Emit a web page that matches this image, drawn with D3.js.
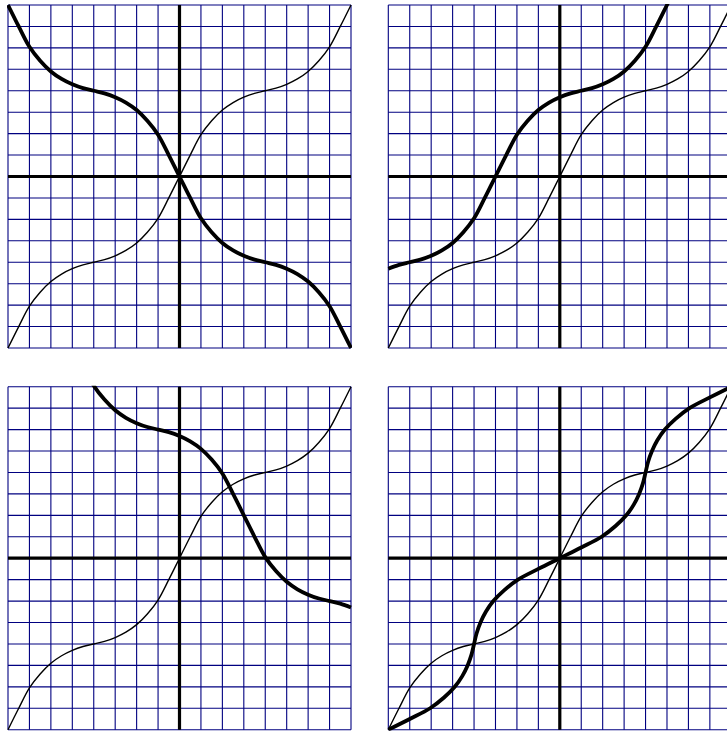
<!DOCTYPE html>
<html>
<head>
<meta charset="utf-8">
<script src="https://cdn.jsdelivr.net/npm/d3@7"></script>
<style>
  html, body { margin: 0; padding: 0; background: #ffffff; }
  svg { display: block; }
</style>
</head>
<body>
<svg id="chart" width="727" height="733"></svg>
<script>
// ---- data (grid units, 1 cell = pi/4) ----
const gridTicks = [-8,-7,-6,-5,-4,-3,-2,-1,0,1,2,3,4,5,6,7,8];

const baseX = [-8,-7.5,-7,-6.5,-6,-5.5,-5,-4.5,-4,-3.5,-3,-2.5,-2,-1.5,-1,-0.5,0,
               0.5,1,1.5,2,2.5,3,3.5,4,4.5,5,5.5,6,6.5,7,7.5,8];
const thinY = [-8,-7.0,-6.05,-5.4,-4.9,-4.55,-4.3,-4.12,-4,-3.88,-3.7,-3.45,-3.1,-2.6,-1.95,-1.0,0,
               1.0,1.95,2.6,3.1,3.45,3.7,3.88,4,4.12,4.3,4.55,4.9,5.4,6.05,7.0,8];

// panel 1: reflected
const thick1Y = [8,7.0,6.05,5.4,4.9,4.55,4.3,4.12,4,3.88,3.7,3.45,3.1,2.6,1.95,1.0,0,
                 -1.0,-1.95,-2.6,-3.1,-3.45,-3.7,-3.88,-4,-4.12,-4.3,-4.55,-4.9,-5.4,-6.05,-7.0,-8];

// panel 2: shifted left
const thick2X = [-8,-7.5,-7,-6.5,-6,-5.5,-5,-4.5,-4,-3.5,-3,-2.5,-2,-1.5,-1,-0.5,0,
                 0.5,1,1.5,2,2.5,3,3.5,4,4.5,5,5.5,6];
const thick2Y = [-4.3,-4.12,-4,-3.88,-3.7,-3.45,-3.1,-2.6,-1.95,-1.0,0,1.0,1.95,2.6,3.1,3.45,3.7,
                 3.88,4,4.12,4.3,4.55,4.9,5.4,6.05,7.0,8,9.0,9.95];

// panel 3: reflected and shifted
const thick3X = [-5,-4.5,-4,-3.5,-3,-2.5,-2,-1.5,-1,-0.5,0,0.5,1,1.5,2,2.5,3,3.5,4,4.5,
                 5,5.5,6,6.5,7,7.5,8];
const thick3Y = [10,9.0,8.05,7.4,6.9,6.55,6.3,6.12,6,5.88,5.7,5.45,5.1,4.6,3.95,3.0,2,1.0,0.05,-0.6,
                 -1.1,-1.45,-1.7,-1.88,-2,-2.12,-2.3];

// panel 4: inverse
const thick4X = [-8,-7.0,-6.05,-5.4,-4.9,-4.55,-4.3,-4.12,-4,-3.88,-3.7,-3.45,-3.1,-2.6,-1.95,-1.0,0,
                 1.0,1.95,2.6,3.1,3.45,3.7,3.88,4,4.12,4.3,4.55,4.9,5.4,6.05,7.0,8];
const thick4Y = [-8,-7.5,-7,-6.5,-6,-5.5,-5,-4.5,-4,-3.5,-3,-2.5,-2,-1.5,-1,-0.5,0,
                 0.5,1,1.5,2,2.5,3,3.5,4,4.5,5,5.5,6,6.5,7,7.5,8];

const panels = [
  { x0: 8,     y0: 5,     tx: thick1TX(), ty: thick1Y },
  { x0: 388.3, y0: 5,     tx: thick2X,    ty: thick2Y },
  { x0: 8,     y0: 386.7, tx: thick3X,    ty: thick3Y },
  { x0: 388.3, y0: 386.7, tx: thick4X,    ty: thick4Y }
];
function thick1TX() { return baseX; }

const size = 343;
const svg = d3.select("#chart");
const defs = svg.append("defs");

panels.forEach((p, i) => {
  const x = d3.scaleLinear().domain([-8, 8]).range([p.x0, p.x0 + size]);
  const y = d3.scaleLinear().domain([-8, 8]).range([p.y0 + size, p.y0]);

  defs.append("clipPath").attr("id", "clip" + i)
    .append("rect")
    .attr("x", p.x0 - 1).attr("y", p.y0 - 1)
    .attr("width", size + 2).attr("height", size + 2);

  const g = svg.append("g");

  // grid
  g.selectAll(".gv").data(gridTicks).join("line")
    .attr("x1", d => x(d)).attr("x2", d => x(d))
    .attr("y1", y(-8)).attr("y2", y(8))
    .attr("stroke", "#000080").attr("stroke-width", 1.1);
  g.selectAll(".gh").data(gridTicks).join("line")
    .attr("y1", d => y(d)).attr("y2", d => y(d))
    .attr("x1", x(-8)).attr("x2", x(8))
    .attr("stroke", "#000080").attr("stroke-width", 1.1);

  // axes
  g.append("line")
    .attr("x1", x(-8)).attr("x2", x(8)).attr("y1", y(0)).attr("y2", y(0))
    .attr("stroke", "#000").attr("stroke-width", 3.2);
  g.append("line")
    .attr("x1", x(0)).attr("x2", x(0)).attr("y1", y(-8)).attr("y2", y(8))
    .attr("stroke", "#000").attr("stroke-width", 3.2);

  const cg = g.append("g").attr("clip-path", "url(#clip" + i + ")");
  const line = d3.line().x(d => x(d[0])).y(d => y(d[1])).curve(d3.curveCatmullRom.alpha(0.5));

  cg.append("path")
    .datum(baseX.map((v, j) => [v, thinY[j]]))
    .attr("d", line)
    .attr("fill", "none").attr("stroke", "#000").attr("stroke-width", 1.4);

  cg.append("path")
    .datum(p.tx.map((v, j) => [v, p.ty[j]]))
    .attr("d", line)
    .attr("fill", "none").attr("stroke", "#000").attr("stroke-width", 3.8)
    .attr("stroke-linejoin", "round");
});
</script>
</body>
</html>
